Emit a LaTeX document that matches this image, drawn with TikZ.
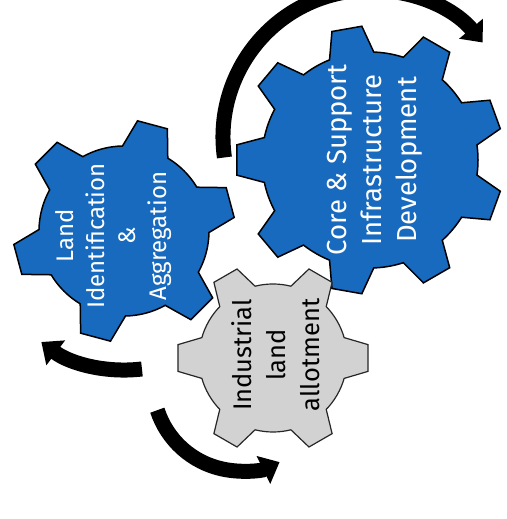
\documentclass[tikz,border=0pt]{standalone}
\usepackage{fontspec}
\setmainfont{Fira Sans}
\usetikzlibrary{arrows.meta}
\definecolor{gearblue}{RGB}{24,106,190}
\definecolor{geargray}{RGB}{210,210,210}
% #1 style, #2 cx, #3 cy, #4 teeth, #5 phase, #6 root r, #7 tip r, #8 root half-angle, #9 tip half-angle
\newcommand\geardraw[9]{%
  \pgfmathsetmacro\gstep{360/#4}%
  \pgfmathtruncatemacro\glast{#4-1}%
  \draw[#1,shift={(#2,#3)}] ({#5-\gstep+#8}:#6)
    \foreach \k in {0,...,\glast} {
      arc[start angle={#5+(\k-1)*\gstep+#8}, end angle={#5+\k*\gstep-#8}, radius=#6]
      -- ({#5+\k*\gstep-#9}:#7) -- ({#5+\k*\gstep+#9}:#7) -- ({#5+\k*\gstep+#8}:#6)
    } -- cycle;%
}
\begin{document}
\begin{tikzpicture}[x=1pt,y=1pt,
  bluegear/.style={fill=gearblue,draw=black,line width=1.5pt},
  graygear/.style={fill=geargray,draw=black!85,line width=1.2pt},
  bigarrow/.style={line width=15pt,-{Triangle[width=30pt,length=18pt]}},
  whitetext/.style={text=white,align=center,rotate=90},
  blacktext/.style={text=black,align=center,rotate=90}]
\fill[white] (0,0) rectangle (506,519);
\useasboundingbox (0,0) rectangle (506,519);
% arrows
\draw[bigarrow] ([shift={(370,382)}]188:147) arc[start angle=188,end angle=40,radius=147];
\draw[bigarrow] ([shift={(125,288)}]-83:139) arc[start angle=-83,end angle=-127,radius=139];
\draw[bigarrow] ([shift={(241,136)}]-162:88) arc[start angle=-162,end angle=-64,radius=88];
% gears
\geardraw{bluegear}{370}{359}{9}{20}{108}{134}{12}{6.5}
\geardraw{bluegear}{124}{288}{6}{15}{85}{111}{16}{8}
\geardraw{graygear}{273}{161}{6}{0}{74}{96}{16}{8}
% labels
\node[whitetext,font=\fontsize{27.5}{35}\selectfont] (core) at (375,359) {Core \& Support\\Infrastructure\\Development};
\node[whitetext,font=\fontsize{24}{31}\selectfont] (land) at (114,283) {Land\\Identification\\\&\\Aggregation};
\node[blacktext,font=\fontsize{25.5}{34}\selectfont] (ind) at (276,164) {Industrial\\land\\allotment};
\end{tikzpicture}
\end{document}
